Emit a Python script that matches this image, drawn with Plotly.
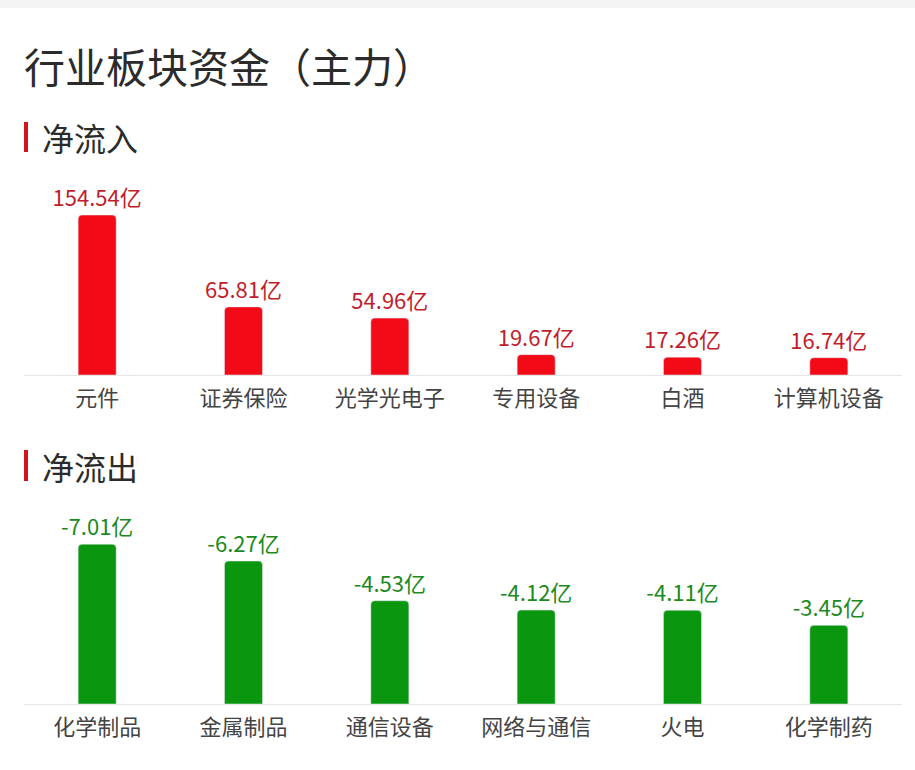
import plotly.graph_objects as go

W, H = 915, 770

title_text = "行业板块资金（主力）"
inflow_header = "净流入"
outflow_header = "净流出"

inflow_names = ["元件", "证券保险", "光学光电子", "专用设备", "白酒", "计算机设备"]
inflow_values = [154.54, 65.81, 54.96, 19.67, 17.26, 16.74]

outflow_names = ["化学制品", "金属制品", "通信设备", "网络与通信", "火电", "化学制药"]
outflow_values = [-7.01, -6.27, -4.53, -4.12, -4.11, -3.45]

FONT = "Noto Sans CJK SC"

def px_y(y):
    return 1 - y / H

def px_x(x):
    return x / W

fig = go.Figure()

fig.add_trace(go.Bar(
    x=inflow_names, y=inflow_values,
    marker=dict(color="#f20a16", cornerradius=4),
    text=[f"{v:.2f}亿" for v in inflow_values],
    textposition="outside",
    constraintext="none",
    textfont=dict(family=FONT, size=22, color="#c01e2c"),
    cliponaxis=False,
    hoverinfo="skip",
    xaxis="x", yaxis="y",
))

fig.add_trace(go.Bar(
    x=outflow_names, y=[abs(v) for v in outflow_values],
    marker=dict(color="#0a960f", cornerradius=4),
    text=[f"{v:.2f}亿" for v in outflow_values],
    textposition="outside",
    constraintext="none",
    textfont=dict(family=FONT, size=22, color="#1d8a1d"),
    cliponaxis=False,
    hoverinfo="skip",
    xaxis="x2", yaxis="y2",
))

xdom = [px_x(24), px_x(902)]
axis_common = dict(
    showgrid=False, zeroline=False, showline=True, linecolor="#e6e6e6", linewidth=1,
    ticks="", ticklabelstandoff=4,
    tickfont=dict(family=FONT, size=22, color="#444444"), fixedrange=True,
)
yaxis_common = dict(showgrid=False, zeroline=False, showline=False, showticklabels=False, fixedrange=True)

fig.update_layout(
    width=W, height=H,
    margin=dict(l=0, r=0, t=0, b=0),
    paper_bgcolor="white", plot_bgcolor="white",
    showlegend=False,
    bargap=0.74,
    font=dict(family=FONT),
    xaxis=dict(domain=xdom, anchor="y", **axis_common),
    yaxis=dict(domain=[px_y(375), px_y(185)], range=[0, 190 / 1.035], anchor="x", **yaxis_common),
    xaxis2=dict(domain=xdom, anchor="y2", **axis_common),
    yaxis2=dict(domain=[px_y(704), px_y(514)], range=[0, 190 / 22.8], anchor="x2", **yaxis_common),
)

shapes = [
    dict(type="rect", xref="paper", yref="paper", x0=0, x1=1, y0=px_y(8), y1=1,
         fillcolor="#f4f4f4", line=dict(width=0), layer="below"),
    dict(type="rect", xref="paper", yref="paper", x0=px_x(24), x1=px_x(28), y0=px_y(152), y1=px_y(122),
         fillcolor="#d2141e", line=dict(width=0)),
    dict(type="rect", xref="paper", yref="paper", x0=px_x(24), x1=px_x(28), y0=px_y(481), y1=px_y(450),
         fillcolor="#d2141e", line=dict(width=0)),
]
fig.update_layout(shapes=shapes)

annotations = [
    dict(text=title_text, xref="paper", yref="paper", x=px_x(22), y=px_y(65),
         xanchor="left", yanchor="middle", showarrow=False,
         font=dict(family=FONT, size=41, color="#2b2b2b")),
    dict(text=inflow_header, xref="paper", yref="paper", x=px_x(40), y=px_y(137),
         xanchor="left", yanchor="middle", showarrow=False,
         font=dict(family=FONT, size=32, color="#2b2b2b")),
    dict(text=outflow_header, xref="paper", yref="paper", x=px_x(40), y=px_y(466),
         xanchor="left", yanchor="middle", showarrow=False,
         font=dict(family=FONT, size=32, color="#2b2b2b")),
]
fig.update_layout(annotations=annotations)

fig.write_html("out.html")
